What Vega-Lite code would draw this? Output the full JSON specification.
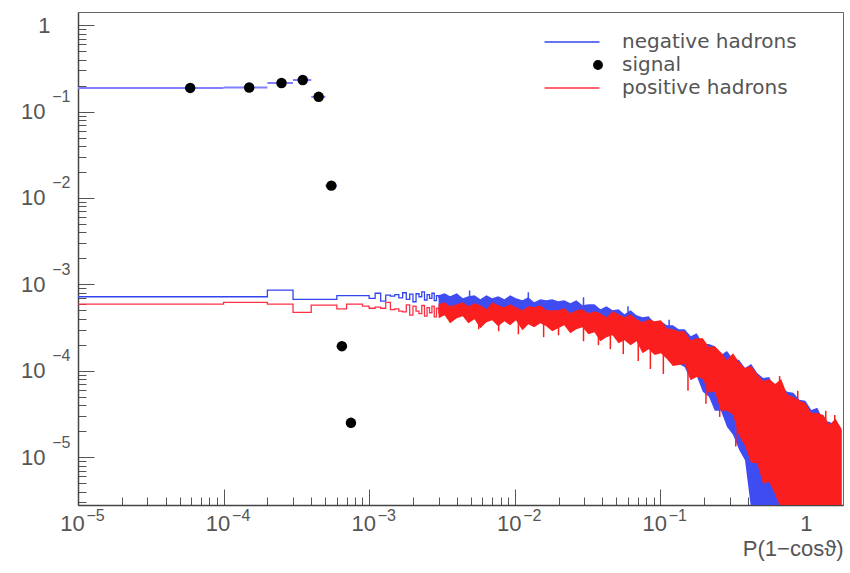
{
  "$schema": "https://vega.github.io/schema/vega-lite/v6.json",
  "width": 765,
  "height": 493,
  "autosize": "none",
  "padding": {"left": 78, "top": 12, "right": 7, "bottom": 68},
  "background": "white",
  "datasets": {
    "lines": [
      {"s": "negative hadrons", "x": 1e-5, "y": 7.2e-4},
      {"s": "negative hadrons", "x": 1e-4, "y": 7.2e-4},
      {"s": "negative hadrons", "x": 2e-4, "y": 8.6e-4},
      {"s": "negative hadrons", "x": 3e-4, "y": 6.7e-4},
      {"s": "negative hadrons", "x": 6e-4, "y": 7.4e-4},
      {"s": "negative hadrons", "x": 1.0e-3, "y": 6.9e-4},
      {"s": "negative hadrons", "x": 1.1e-3, "y": 7.9e-4},
      {"s": "negative hadrons", "x": 1.2e-3, "y": 6.4e-4},
      {"s": "negative hadrons", "x": 1.3e-3, "y": 7.5e-4},
      {"s": "negative hadrons", "x": 1.4e-3, "y": 7.3e-4},
      {"s": "negative hadrons", "x": 1.5e-3, "y": 7.6e-4},
      {"s": "negative hadrons", "x": 1.6e-3, "y": 7.0e-4},
      {"s": "negative hadrons", "x": 1.7e-3, "y": 8.0e-4},
      {"s": "negative hadrons", "x": 1.8e-3, "y": 6.7e-4},
      {"s": "negative hadrons", "x": 1.9e-3, "y": 7.7e-4},
      {"s": "negative hadrons", "x": 2.0e-3, "y": 6.3e-4},
      {"s": "negative hadrons", "x": 2.1e-3, "y": 7.8e-4},
      {"s": "negative hadrons", "x": 2.2e-3, "y": 7.2e-4},
      {"s": "negative hadrons", "x": 2.3e-3, "y": 8.2e-4},
      {"s": "negative hadrons", "x": 2.4e-3, "y": 6.6e-4},
      {"s": "negative hadrons", "x": 2.5e-3, "y": 7.6e-4},
      {"s": "negative hadrons", "x": 2.6e-3, "y": 6.9e-4},
      {"s": "negative hadrons", "x": 2.7e-3, "y": 7.9e-4},
      {"s": "negative hadrons", "x": 2.8e-3, "y": 6.5e-4},
      {"s": "negative hadrons", "x": 2.9e-3, "y": 7.4e-4},
      {"s": "negative hadrons", "x": 3.0e-3, "y": 7.0e-4},
      {"s": "positive hadrons", "x": 1e-5, "y": 5.9e-4},
      {"s": "positive hadrons", "x": 1e-4, "y": 6.2e-4},
      {"s": "positive hadrons", "x": 2e-4, "y": 5.9e-4},
      {"s": "positive hadrons", "x": 3e-4, "y": 4.75e-4},
      {"s": "positive hadrons", "x": 4e-4, "y": 5.75e-4},
      {"s": "positive hadrons", "x": 6e-4, "y": 5.2e-4},
      {"s": "positive hadrons", "x": 7e-4, "y": 5.9e-4},
      {"s": "positive hadrons", "x": 9e-4, "y": 5.6e-4},
      {"s": "positive hadrons", "x": 1.0e-3, "y": 5.3e-4},
      {"s": "positive hadrons", "x": 1.1e-3, "y": 5.45e-4},
      {"s": "positive hadrons", "x": 1.2e-3, "y": 5.3e-4},
      {"s": "positive hadrons", "x": 1.3e-3, "y": 6.2e-4},
      {"s": "positive hadrons", "x": 1.4e-3, "y": 5.1e-4},
      {"s": "positive hadrons", "x": 1.5e-3, "y": 5.2e-4},
      {"s": "positive hadrons", "x": 1.6e-3, "y": 4.9e-4},
      {"s": "positive hadrons", "x": 1.7e-3, "y": 4.8e-4},
      {"s": "positive hadrons", "x": 1.8e-3, "y": 5.8e-4},
      {"s": "positive hadrons", "x": 1.9e-3, "y": 4.4e-4},
      {"s": "positive hadrons", "x": 2.0e-3, "y": 5.6e-4},
      {"s": "positive hadrons", "x": 2.1e-3, "y": 4.9e-4},
      {"s": "positive hadrons", "x": 2.2e-3, "y": 4.6e-4},
      {"s": "positive hadrons", "x": 2.3e-3, "y": 5.7e-4},
      {"s": "positive hadrons", "x": 2.4e-3, "y": 4.3e-4},
      {"s": "positive hadrons", "x": 2.5e-3, "y": 5.4e-4},
      {"s": "positive hadrons", "x": 2.6e-3, "y": 4.7e-4},
      {"s": "positive hadrons", "x": 2.7e-3, "y": 5.6e-4},
      {"s": "positive hadrons", "x": 2.8e-3, "y": 4.2e-4},
      {"s": "positive hadrons", "x": 2.9e-3, "y": 5.3e-4},
      {"s": "positive hadrons", "x": 3.0e-3, "y": 4.6e-4}
    ],
    "bandneg": [
      {"x": 3.0e-3, "y": 4.63e-4, "y2": 7.48e-4},
      {"x": 3.3e-3, "y": 4.76e-4, "y2": 7.89e-4},
      {"x": 3.6e-3, "y": 4.28e-4, "y2": 7.28e-4},
      {"x": 4.0e-3, "y": 5.02e-4, "y2": 7.89e-4},
      {"x": 4.4e-3, "y": 4.28e-4, "y2": 6.91e-4},
      {"x": 4.8e-3, "y": 4.51e-4, "y2": 7.28e-4},
      {"x": 5.3e-3, "y": 4.06e-4, "y2": 7.48e-4},
      {"x": 5.8e-3, "y": 4.63e-4, "y2": 6.73e-4},
      {"x": 6.4e-3, "y": 4.28e-4, "y2": 7.48e-4},
      {"x": 7.0e-3, "y": 4.39e-4, "y2": 6.91e-4},
      {"x": 7.7e-3, "y": 4.17e-4, "y2": 7.28e-4},
      {"x": 8.5e-3, "y": 4.39e-4, "y2": 6.73e-4},
      {"x": 9.3e-3, "y": 3.85e-4, "y2": 7.48e-4},
      {"x": 0.0102, "y": 4.51e-4, "y2": 6.91e-4},
      {"x": 0.0113, "y": 3.85e-4, "y2": 6.55e-4},
      {"x": 0.0124, "y": 4.06e-4, "y2": 7.09e-4},
      {"x": 0.0136, "y": 3.65e-4, "y2": 6.21e-4},
      {"x": 0.015, "y": 4.17e-4, "y2": 6.73e-4},
      {"x": 0.0165, "y": 3.85e-4, "y2": 6.55e-4},
      {"x": 0.0181, "y": 3.95e-4, "y2": 6.73e-4},
      {"x": 0.0199, "y": 3.75e-4, "y2": 6.38e-4},
      {"x": 0.0219, "y": 3.85e-4, "y2": 6.55e-4},
      {"x": 0.0241, "y": 3.37e-4, "y2": 6.05e-4},
      {"x": 0.0265, "y": 3.75e-4, "y2": 6.55e-4},
      {"x": 0.0292, "y": 3.19e-4, "y2": 5.73e-4},
      {"x": 0.0321, "y": 3.28e-4, "y2": 5.89e-4},
      {"x": 0.0353, "y": 2.87e-4, "y2": 5.89e-4},
      {"x": 0.0388, "y": 3.19e-4, "y2": 5.15e-4},
      {"x": 0.0427, "y": 2.87e-4, "y2": 5.58e-4},
      {"x": 0.047, "y": 2.87e-4, "y2": 5.02e-4},
      {"x": 0.0517, "y": 2.65e-4, "y2": 5.15e-4},
      {"x": 0.0568, "y": 2.65e-4, "y2": 4.51e-4},
      {"x": 0.0625, "y": 2.33e-4, "y2": 5.02e-4},
      {"x": 0.0688, "y": 2.58e-4, "y2": 4.39e-4},
      {"x": 0.0756, "y": 2.15e-4, "y2": 4.17e-4},
      {"x": 0.0832, "y": 2.09e-4, "y2": 4.28e-4},
      {"x": 0.0915, "y": 1.74e-4, "y2": 3.55e-4},
      {"x": 0.101, "y": 1.83e-4, "y2": 3.75e-4},
      {"x": 0.111, "y": 1.56e-4, "y2": 3.37e-4},
      {"x": 0.122, "y": 1.44e-4, "y2": 3.37e-4},
      {"x": 0.134, "y": 1.20e-4, "y2": 3.03e-4},
      {"x": 0.147, "y": 1.11e-4, "y2": 3.03e-4},
      {"x": 0.162, "y": 7.85e-5, "y2": 2.51e-4},
      {"x": 0.178, "y": 8.73e-5, "y2": 2.72e-4},
      {"x": 0.196, "y": 5.71e-5, "y2": 2.04e-4},
      {"x": 0.216, "y": 5.0e-5, "y2": 2.04e-4},
      {"x": 0.237, "y": 3.44e-5, "y2": 1.93e-4},
      {"x": 0.261, "y": 3.44e-5, "y2": 1.52e-4},
      {"x": 0.287, "y": 2.25e-5, "y2": 1.69e-4},
      {"x": 0.316, "y": 1.82e-5, "y2": 1.37e-4},
      {"x": 0.348, "y": 1.22e-5, "y2": 1.33e-4},
      {"x": 0.382, "y": 9.2e-6, "y2": 1.08e-4},
      {"x": 0.421, "y": 2.5e-6, "y2": 1.20e-4},
      {"x": 0.463, "y": 2.5e-6, "y2": 9.45e-5},
      {"x": 0.509, "y": 2.5e-6, "y2": 8.28e-5},
      {"x": 0.56, "y": 2.5e-6, "y2": 8.50e-5},
      {"x": 0.616, "y": 2.5e-6, "y2": 6.18e-5},
      {"x": 0.677, "y": 2.5e-6, "y2": 6.52e-5},
      {"x": 0.745, "y": 2.5e-6, "y2": 5.71e-5},
      {"x": 0.82, "y": 2.5e-6, "y2": 5.56e-5},
      {"x": 0.902, "y": 2.5e-6, "y2": 4.61e-5},
      {"x": 0.992, "y": 2.5e-6, "y2": 4.49e-5},
      {"x": 1.09, "y": 2.5e-6, "y2": 3.53e-5},
      {"x": 1.2, "y": 2.5e-6, "y2": 3.73e-5},
      {"x": 1.32, "y": 2.5e-6, "y2": 2.64e-5},
      {"x": 1.45, "y": 2.5e-6, "y2": 2.57e-5},
      {"x": 1.6, "y": 2.5e-6, "y2": 2.31e-5},
      {"x": 1.76, "y": 2.5e-6, "y2": 2.07e-5}
    ],
    "bandpos": [
      {"x": 3.0e-3, "y": 4.06e-4, "y2": 5.89e-4},
      {"x": 3.3e-3, "y": 4.39e-4, "y2": 6.21e-4},
      {"x": 3.6e-3, "y": 3.55e-4, "y2": 5.58e-4},
      {"x": 4.0e-3, "y": 4.06e-4, "y2": 5.89e-4},
      {"x": 4.4e-3, "y": 4.28e-4, "y2": 6.21e-4},
      {"x": 4.8e-3, "y": 3.55e-4, "y2": 5.58e-4},
      {"x": 5.3e-3, "y": 3.95e-4, "y2": 6.05e-4},
      {"x": 5.8e-3, "y": 3.11e-4, "y2": 5.73e-4},
      {"x": 6.4e-3, "y": 3.65e-4, "y2": 5.15e-4},
      {"x": 7.0e-3, "y": 3.85e-4, "y2": 6.21e-4},
      {"x": 7.7e-3, "y": 3.28e-4, "y2": 5.73e-4},
      {"x": 8.5e-3, "y": 3.75e-4, "y2": 5.44e-4},
      {"x": 9.3e-3, "y": 3.37e-4, "y2": 5.89e-4},
      {"x": 0.0102, "y": 3.85e-4, "y2": 5.44e-4},
      {"x": 0.0113, "y": 2.95e-4, "y2": 5.02e-4},
      {"x": 0.0124, "y": 3.46e-4, "y2": 5.58e-4},
      {"x": 0.0136, "y": 3.19e-4, "y2": 5.44e-4},
      {"x": 0.015, "y": 3.55e-4, "y2": 5.73e-4},
      {"x": 0.0165, "y": 3.28e-4, "y2": 5.02e-4},
      {"x": 0.0181, "y": 2.87e-4, "y2": 5.02e-4},
      {"x": 0.0199, "y": 3.11e-4, "y2": 5.02e-4},
      {"x": 0.0219, "y": 3.37e-4, "y2": 5.29e-4},
      {"x": 0.0241, "y": 2.72e-4, "y2": 4.63e-4},
      {"x": 0.0265, "y": 3.03e-4, "y2": 5.02e-4},
      {"x": 0.0292, "y": 3.19e-4, "y2": 5.15e-4},
      {"x": 0.0321, "y": 2.65e-4, "y2": 4.63e-4},
      {"x": 0.0353, "y": 2.80e-4, "y2": 4.89e-4},
      {"x": 0.0388, "y": 2.20e-4, "y2": 4.63e-4},
      {"x": 0.0427, "y": 2.45e-4, "y2": 4.17e-4},
      {"x": 0.047, "y": 2.58e-4, "y2": 4.89e-4},
      {"x": 0.0517, "y": 2.09e-4, "y2": 4.51e-4},
      {"x": 0.0568, "y": 2.26e-4, "y2": 4.17e-4},
      {"x": 0.0625, "y": 1.98e-4, "y2": 4.51e-4},
      {"x": 0.0688, "y": 2.20e-4, "y2": 3.95e-4},
      {"x": 0.0756, "y": 1.60e-4, "y2": 3.65e-4},
      {"x": 0.0832, "y": 1.78e-4, "y2": 3.95e-4},
      {"x": 0.0915, "y": 1.52e-4, "y2": 3.75e-4},
      {"x": 0.101, "y": 1.60e-4, "y2": 3.85e-4},
      {"x": 0.111, "y": 1.37e-4, "y2": 3.11e-4},
      {"x": 0.122, "y": 1.14e-4, "y2": 3.03e-4},
      {"x": 0.134, "y": 1.17e-4, "y2": 2.87e-4},
      {"x": 0.147, "y": 1.20e-4, "y2": 2.87e-4},
      {"x": 0.162, "y": 7.85e-5, "y2": 2.26e-4},
      {"x": 0.178, "y": 8.50e-5, "y2": 2.38e-4},
      {"x": 0.196, "y": 8.06e-5, "y2": 2.38e-4},
      {"x": 0.216, "y": 5.56e-5, "y2": 1.88e-4},
      {"x": 0.237, "y": 5.71e-5, "y2": 1.93e-4},
      {"x": 0.261, "y": 3.44e-5, "y2": 1.64e-4},
      {"x": 0.287, "y": 3.44e-5, "y2": 1.33e-4},
      {"x": 0.316, "y": 3.09e-5, "y2": 1.60e-4},
      {"x": 0.348, "y": 1.77e-5, "y2": 1.26e-4},
      {"x": 0.382, "y": 1.36e-5, "y2": 1.08e-4},
      {"x": 0.421, "y": 8.6e-6, "y2": 1.14e-4},
      {"x": 0.463, "y": 8.6e-6, "y2": 9.2e-5},
      {"x": 0.509, "y": 4.9e-6, "y2": 7.64e-5},
      {"x": 0.56, "y": 5.2e-6, "y2": 8.06e-5},
      {"x": 0.616, "y": 3.7e-6, "y2": 7.06e-5},
      {"x": 0.677, "y": 2.5e-6, "y2": 8.06e-5},
      {"x": 0.745, "y": 2.5e-6, "y2": 5.27e-5},
      {"x": 0.82, "y": 2.5e-6, "y2": 5.0e-5},
      {"x": 0.902, "y": 2.5e-6, "y2": 4.49e-5},
      {"x": 0.992, "y": 2.5e-6, "y2": 4.26e-5},
      {"x": 1.09, "y": 2.5e-6, "y2": 3.26e-5},
      {"x": 1.2, "y": 2.5e-6, "y2": 3.26e-5},
      {"x": 1.32, "y": 2.5e-6, "y2": 3.09e-5},
      {"x": 1.45, "y": 2.5e-6, "y2": 2.37e-5},
      {"x": 1.6, "y": 2.5e-6, "y2": 2.78e-5},
      {"x": 1.76, "y": 2.5e-6, "y2": 2.13e-5}
    ],
    "spikeneg": [
      {"x": 4.9e-3, "y": 6.5e-4, "y2": 8.5e-4},
      {"x": 0.0124, "y": 6.3e-4, "y2": 8.1e-4},
      {"x": 0.0297, "y": 5.3e-4, "y2": 7.1e-4},
      {"x": 0.06, "y": 4.4e-4, "y2": 5.6e-4},
      {"x": 0.115, "y": 2.9e-4, "y2": 3.9e-4}
    ],
    "spikepos": [
      {"x": 5.66e-3, "y": 3.03e-4, "y2": 5.0e-4},
      {"x": 7.76e-3, "y": 2.87e-4, "y2": 4.8e-4},
      {"x": 0.0106, "y": 2.65e-4, "y2": 4.5e-4},
      {"x": 0.0158, "y": 2.45e-4, "y2": 4.3e-4},
      {"x": 0.020, "y": 2.58e-4, "y2": 4.3e-4},
      {"x": 0.0297, "y": 2.2e-4, "y2": 4.1e-4},
      {"x": 0.0376, "y": 1.98e-4, "y2": 3.9e-4},
      {"x": 0.0454, "y": 1.78e-4, "y2": 3.7e-4},
      {"x": 0.0557, "y": 1.56e-4, "y2": 3.5e-4},
      {"x": 0.0706, "y": 1.30e-4, "y2": 3.2e-4},
      {"x": 0.0855, "y": 1.05e-4, "y2": 3.0e-4},
      {"x": 0.105, "y": 9.2e-5, "y2": 2.8e-4},
      {"x": 0.155, "y": 5.86e-5, "y2": 2.1e-4},
      {"x": 0.206, "y": 4.15e-5, "y2": 1.7e-4},
      {"x": 0.256, "y": 2.93e-5, "y2": 1.3e-4},
      {"x": 0.33, "y": 1.33e-5, "y2": 1.0e-4},
      {"x": 0.66, "y": 3.0e-5, "y2": 8.7e-5},
      {"x": 0.88, "y": 2.0e-5, "y2": 5.86e-5},
      {"x": 1.37, "y": 1.5e-5, "y2": 3.44e-5},
      {"x": 1.58, "y": 1.5e-5, "y2": 3.09e-5}
    ],
    "sigbar": [
      {"x": 1e-5, "x2": 1e-4, "y": 0.188},
      {"x": 1e-4, "x2": 2e-4, "y": 0.19},
      {"x": 2e-4, "x2": 3e-4, "y": 0.214},
      {"x": 3e-4, "x2": 4e-4, "y": 0.232},
      {"x": 4e-4, "x2": 5e-4, "y": 0.148},
      {"x": 5e-4, "x2": 6e-4, "y": 0.0139},
      {"x": 6e-4, "x2": 7e-4, "y": 1.93e-4},
      {"x": 7e-4, "x2": 8e-4, "y": 2.5e-5}
    ],
    "signal": [
      {"s": "signal", "x": 5.9e-5, "y": 0.188},
      {"s": "signal", "x": 1.5e-4, "y": 0.19},
      {"s": "signal", "x": 2.5e-4, "y": 0.214},
      {"s": "signal", "x": 3.5e-4, "y": 0.232},
      {"s": "signal", "x": 4.5e-4, "y": 0.148},
      {"s": "signal", "x": 5.5e-4, "y": 0.0139},
      {"s": "signal", "x": 6.5e-4, "y": 1.93e-4},
      {"s": "signal", "x": 7.5e-4, "y": 2.5e-5}
    ]
  },
  "resolve": {"axis": {"x": "independent", "y": "independent"}},
  "layer": [
    {
      "data": {"name": "bandneg"},
      "mark": {"type": "area", "interpolate": "linear", "color": "#3f4cf2", "opacity": 1, "clip": true},
      "encoding": {
        "x": {"field": "x", "type": "quantitative", "scale": {"type": "log", "domain": [1e-5, 1.8], "nice": false},
          "axis": {"orient": "bottom", "title": null, "tickCount": 60, "labels": false, "domain": true,
            "tickSize": {"condition": {"test": "abs(log(datum.value)/LN10 - round(log(datum.value)/LN10)) < 1e-6", "value": -16}, "value": -8}}},
        "y": {"field": "y", "type": "quantitative", "scale": {"type": "log", "domain": [2.8e-6, 1.42], "nice": false},
          "axis": {"orient": "left", "title": null, "tickCount": 60, "labels": false, "domain": true,
            "tickSize": {"condition": {"test": "abs(log(datum.value)/LN10 - round(log(datum.value)/LN10)) < 1e-6", "value": -16}, "value": -8}}},
        "y2": {"field": "y2"}
      }
    },
    {
      "data": {"name": "spikeneg"},
      "mark": {"type": "rule", "color": "#3f4cf2", "strokeWidth": 1.5, "clip": true},
      "encoding": {
        "x": {"field": "x", "type": "quantitative", "scale": {"type": "log", "domain": [1e-5, 1.8], "nice": false}, "axis": null},
        "y": {"field": "y", "type": "quantitative", "scale": {"type": "log", "domain": [2.8e-6, 1.42], "nice": false}, "axis": null},
        "y2": {"field": "y2"}
      }
    },
    {
      "data": {"name": "bandpos"},
      "mark": {"type": "area", "interpolate": "linear", "color": "#fa1e1e", "opacity": 1, "clip": true},
      "encoding": {
        "x": {"field": "x", "type": "quantitative", "scale": {"type": "log", "domain": [1e-5, 1.8], "nice": false},
          "axis": {"orient": "bottom", "title": "P(1−cosϑ)", "tickCount": 60, "ticks": false, "domain": false,
            "labelExpr": "abs(log(datum.value)/LN10 - round(log(datum.value)/LN10)) < 1e-6 ? (round(log(datum.value)/LN10) == 0 ? '1' : '10') : ''",
            "labelOverlap": false, "labelFlush": false, "labelBound": false, "labelPadding": 8, "labelFontSize": 22,
            "labelOffset": {"condition": {"test": "abs(log(datum.value)) < 1e-6", "value": 0}, "value": -6},
            "titleAnchor": "end", "titleAlign": "right", "titlePadding": 4, "titleFontSize": 22}},
        "y": {"field": "y", "type": "quantitative", "scale": {"type": "log", "domain": [2.8e-6, 1.42], "nice": false},
          "axis": {"orient": "left", "title": null, "tickCount": 60, "ticks": false, "domain": false,
            "labelExpr": "abs(log(datum.value)/LN10 - round(log(datum.value)/LN10)) < 1e-6 ? (round(log(datum.value)/LN10) == 0 ? '1' : '10') : ''",
            "labelOverlap": false, "labelFlush": false, "labelBound": false, "labelFontSize": 22,
            "labelPadding": {"condition": {"test": "abs(log(datum.value)) < 1e-6", "value": 28}, "value": 33}}},
        "y2": {"field": "y2"}
      }
    },
    {
      "data": {"name": "spikepos"},
      "mark": {"type": "rule", "color": "#fa1e1e", "strokeWidth": 1.5, "clip": true},
      "encoding": {
        "x": {"field": "x", "type": "quantitative", "scale": {"type": "log", "domain": [1e-5, 1.8], "nice": false}, "axis": null},
        "y": {"field": "y", "type": "quantitative", "scale": {"type": "log", "domain": [2.8e-6, 1.42], "nice": false}, "axis": null},
        "y2": {"field": "y2"}
      }
    },
    {
      "data": {"name": "lines"},
      "mark": {"type": "line", "interpolate": "step-after", "strokeWidth": 1.3, "clip": true},
      "encoding": {
        "x": {"field": "x", "type": "quantitative", "scale": {"type": "log", "domain": [1e-5, 1.8], "nice": false},
          "axis": {"orient": "bottom", "title": null, "tickCount": 60, "ticks": false, "domain": false,
            "labelExpr": "abs(log(datum.value)/LN10 - round(log(datum.value)/LN10)) < 1e-6 && round(log(datum.value)/LN10) != 0 ? '−' + (-round(log(datum.value)/LN10)) : ''",
            "labelOverlap": false, "labelFlush": false, "labelBound": false, "labelAlign": "left", "labelOffset": 8, "labelPadding": 2, "labelFontSize": 16}},
        "y": {"field": "y", "type": "quantitative", "scale": {"type": "log", "domain": [2.8e-6, 1.42], "nice": false},
          "axis": {"orient": "left", "title": null, "tickCount": 60, "ticks": false, "domain": false,
            "labelExpr": "abs(log(datum.value)/LN10 - round(log(datum.value)/LN10)) < 1e-6 && round(log(datum.value)/LN10) != 0 ? '−' + (-round(log(datum.value)/LN10)) : ''",
            "labelOverlap": false, "labelFlush": false, "labelBound": false, "labelFontSize": 16, "labelPadding": 8, "labelOffset": -15}},
        "color": {
          "field": "s",
          "type": "nominal",
          "scale": {"domain": ["negative hadrons", "signal", "positive hadrons"], "range": ["#3344ee", "#000000", "#ff3045"]},
          "legend": {
            "title": null,
            "orient": "none",
            "legendX": 489,
            "legendY": 20,
            "symbolType": "M-5.5,0H5.5",
            "symbolSize": 100,
            "symbolStrokeWidth": 1.5,
            "labelFont": "DejaVu Sans",
            "labelFontSize": 20,
            "labelColor": "#555",
            "labelLimit": 0,
            "labelOffset": 35,
            "rowPadding": 3,
            "encode": {
              "symbols": {
                "update": {
                  "shape": {"signal": "datum.value === 'signal' ? 'circle' : 'M-5.5,0H5.5'"},
                  "size": {"signal": "datum.value === 'signal' ? 70 : 100"},
                  "fill": {"signal": "datum.value === 'signal' ? '#000000' : 'transparent'"},
                  "stroke": {"signal": "datum.value === 'signal' ? '#000000' : (datum.value === 'negative hadrons' ? '#8d8dff' : '#ff6f8f')"},
                  "x": {"signal": "datum.value === 'signal' ? 31 : 5"}
                }
              }
            }
          }
        }
      }
    },
    {
      "data": {"name": "sigbar"},
      "mark": {"type": "rule", "color": "#7f7fff", "strokeWidth": 2, "clip": true},
      "encoding": {
        "x": {"field": "x", "type": "quantitative", "scale": {"type": "log", "domain": [1e-5, 1.8], "nice": false}, "axis": null},
        "x2": {"field": "x2"},
        "y": {"field": "y", "type": "quantitative", "scale": {"type": "log", "domain": [2.8e-6, 1.42], "nice": false}, "axis": null}
      }
    },
    {
      "data": {"name": "signal"},
      "mark": {"type": "point", "filled": true, "size": 110, "opacity": 1, "clip": true},
      "encoding": {
        "x": {"field": "x", "type": "quantitative", "scale": {"type": "log", "domain": [1e-5, 1.8], "nice": false}, "axis": null},
        "y": {"field": "y", "type": "quantitative", "scale": {"type": "log", "domain": [2.8e-6, 1.42], "nice": false}, "axis": null},
        "color": {
          "field": "s",
          "type": "nominal",
          "scale": {"domain": ["negative hadrons", "signal", "positive hadrons"], "range": ["#3344ee", "#000000", "#ff3045"]}
        }
      }
    }
  ],
  "config": {
    "view": {"stroke": "#666", "strokeWidth": 1},
    "axis": {
      "grid": false,
      "labelFont": "Liberation Sans",
      "labelColor": "#555",
      "titleFont": "Liberation Sans",
      "titleFontWeight": "normal",
      "titleColor": "#555",
      "domainColor": "#444",
      "domainWidth": 1.5,
      "tickColor": "#555",
      "tickWidth": 1
    }
  }
}
